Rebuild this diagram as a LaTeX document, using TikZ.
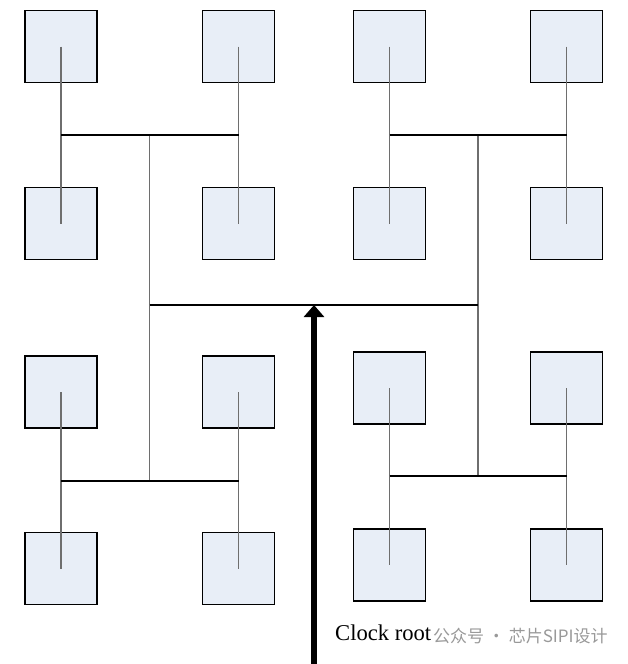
\documentclass[tikz,border=0pt]{standalone}
\usepackage{fontspec}
\setmainfont{Liberation Serif}
\newfontfamily\cjkfont{Noto Sans CJK SC}
\usepackage{xcolor}
\usetikzlibrary{arrows.meta,positioning}
\definecolor{cellfill}{RGB}{232,238,247}
\definecolor{wiregray}{RGB}{110,110,110}
\tikzset{
  cell/.style={rectangle, draw=black, fill=cellfill, line width=1.2pt, minimum width=72pt, minimum height=72pt, inner sep=0pt},
  leafwire/.style={wiregray, line width=1.1pt},
  hbar/.style={black, line width=1.5pt},
  rootarrow/.style={-{Triangle[width=20pt,length=12pt]}, line width=6pt, black}
}

\begin{document}
\begin{tikzpicture}[x=1pt, y=-1pt]
\useasboundingbox (0,0) rectangle (627,664);
% upper left H
\node[cell] (ul1) at (61,46.5) {};
\node[cell] (ul2) at (238.5,46.5) {};
\node[cell] (ul3) at (61,223.5) {};
\node[cell] (ul4) at (238.5,223.5) {};
% upper right H
\node[cell] (ur1) at (389.5,46.5) {};
\node[cell] (ur2) at (566.5,46.5) {};
\node[cell] (ur3) at (389.5,223.5) {};
\node[cell] (ur4) at (566.5,223.5) {};
% lower left H
\node[cell] (ll1) at (61,392) {};
\node[cell] (ll2) at (238.5,392) {};
\node[cell] (ll3) at (61,568.5) {};
\node[cell] (ll4) at (238.5,568.5) {};
% lower right H
\node[cell] (lr1) at (389.5,388) {};
\node[cell] (lr2) at (566.5,388) {};
\node[cell] (lr3) at (389.5,565) {};
\node[cell] (lr4) at (566.5,565) {};
% junctions
\coordinate (hul) at (149.5,135);
\coordinate (hur) at (478,135);
\coordinate (hll) at (149.5,481);
\coordinate (hlr) at (478,476);
\coordinate (root) at (314,305);
\coordinate (src) at (314,664);
% leaf wires
\draw[leafwire] (ul1.center) -- (ul3.center);
\draw[leafwire] (ul2.center) -- (ul4.center);
\draw[leafwire] (ur1.center) -- (ur3.center);
\draw[leafwire] (ur2.center) -- (ur4.center);
\draw[leafwire] (ll1.center) -- (ll3.center);
\draw[leafwire] (ll2.center) -- (ll4.center);
\draw[leafwire] (lr1.center) -- (lr3.center);
\draw[leafwire] (lr2.center) -- (lr4.center);
% trunks
\draw[leafwire] (hul) -- (hll);
\draw[leafwire] (hur) -- (hlr);
% bars
\draw[hbar] (ul1 |- hul) -- (ul2 |- hul);
\draw[hbar] (ur1 |- hur) -- (ur2 |- hur);
\draw[hbar] (ll1 |- hll) -- (ll2 |- hll);
\draw[hbar] (lr1 |- hlr) -- (lr2 |- hlr);
\draw[hbar] (hul |- root) -- (hur |- root);
% clock root
\draw[rootarrow] (src) -- (root);
\node[anchor=base west, inner sep=0pt, font=\fontsize{22.6}{26}\selectfont] (rootlabel) at (335,640) {Clock root};
\node[anchor=west, inner sep=0pt, text=black!40, font=\cjkfont\fontsize{17}{20}\selectfont] (mark) at (433,636) {公众号 · 芯片SIPI设计};
\end{tikzpicture}
\end{document}
